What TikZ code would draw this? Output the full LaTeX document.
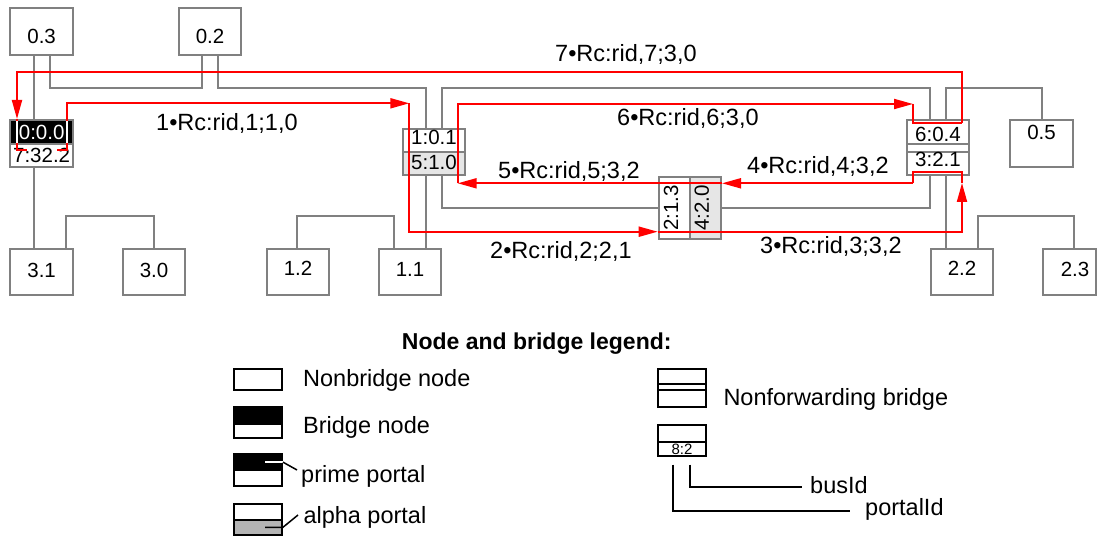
\documentclass[tikz,border=0pt]{standalone}
\usepackage{fontspec}
\usepackage{graphicx}
\setmainfont{Liberation Sans}
\usetikzlibrary{arrows.meta}

\definecolor{busgray}{HTML}{808080}
\definecolor{portalfill}{HTML}{E6E6E6}
\definecolor{alphafill}{HTML}{B4B4B4}
\definecolor{routered}{HTML}{FF0000}

\newcommand{\hostfont}{\fontsize{20.5pt}{24pt}\selectfont}
\newcommand{\routefont}{\fontsize{23.5pt}{28pt}\selectfont}
\newcommand{\legfont}{\fontsize{23.5pt}{28pt}\selectfont}
\newcommand{\legtitlefont}{\fontsize{23pt}{28pt}\selectfont\bfseries}
\newcommand{\idfont}{\fontsize{15pt}{18pt}\selectfont}

\begin{document}
\begin{tikzpicture}[x=1pt,y=-1pt,
  bus/.style={draw=busgray,line width=2pt},
  route/.style={draw=routered,line width=2pt},
  arrowed/.style={-{Triangle[length=19pt,width=10pt]}},
  hostbox/.style={draw=busgray,line width=2pt,fill=white,inner sep=0pt,
    minimum width=62.7pt,minimum height=46pt,font=\hostfont,text depth=0pt},
  portalpart/.style={draw=busgray,line width=2pt,inner sep=0pt,font=\hostfont},
  legbox/.style={draw=black,line width=2pt,inner sep=0pt,minimum width=47.7pt},
  leader/.style={draw=black,line width=1.5pt},
  idleader/.style={draw=black,line width=2pt},
  routelabel/.style={anchor=base west,inner sep=0pt,font=\routefont},
  legtext/.style={anchor=base west,inner sep=0pt,font=\legfont},
]
\useasboundingbox (0,0) rectangle (1098,537);

% ---------- hosts ----------
\node[hostbox,minimum height=46.7pt,text height=24.7pt] (n03) at (41.65,31.65) {0.3};
\node[hostbox,minimum height=46.7pt,text height=24.7pt] (n02) at (210,31.65) {0.2};
\node[hostbox,text height=10.1pt] (n31) at (41.65,272) {3.1};
\node[hostbox,text height=10.7pt] (n30) at (154,272) {3.0};
\node[hostbox,text height=6.1pt] (n12) at (298,272) {1.2};
\node[hostbox,text height=8.1pt] (n11) at (410,272) {1.1};
\node[hostbox,text height=6.1pt] (n22) at (962,272) {2.2};
\node[hostbox,text height=9.5pt,minimum width=53pt] (n23) at (1069.5,272) {\hspace*{11pt}2.3};
\node[hostbox,minimum width=63pt,minimum height=46.7pt,text height=0pt,text depth=6.7pt] (n05) at (1041.5,143.35) {0.5};

% ---------- bridges ----------
\node[portalpart,fill=black,text=white,minimum width=62.7pt,minimum height=24pt,
  text height=14.7pt,text depth=0pt] (b0top) at (41.65,132) {0:0.0};
\node[portalpart,fill=white,minimum width=62.7pt,minimum height=23pt,
  text height=14.7pt,text depth=0pt] (b0bot) at (41.65,155.5) {7:32.2};

\node[portalpart,fill=white,minimum width=62pt,minimum height=23.5pt,
  text height=8.5pt,text depth=0pt] (b1top) at (434,140.75) {1:0.1};
\node[portalpart,fill=portalfill,minimum width=62pt,minimum height=22.5pt,
  text height=12.5pt,text depth=0pt] (b1bot) at (434,163.75) {5:1.0};

\node[portalpart,fill=white,minimum width=31.3pt,minimum height=62pt] (b2l) at (674.35,208)
  {\rotatebox{90}{2:1.3}\hspace*{6.7pt}};
\node[portalpart,fill=portalfill,minimum width=31pt,minimum height=62pt] (b2r) at (705.5,208)
  {\rotatebox{90}{4:2.0}\hspace*{7.6pt}};

\node[portalpart,fill=white,minimum width=62pt,minimum height=24pt,
  text height=19.4pt,text depth=0pt] (b6top) at (938,132) {6:0.4};
\node[portalpart,fill=white,minimum width=62pt,minimum height=8pt] (b6gap) at (938,148) {};
\node[portalpart,fill=white,minimum width=62pt,minimum height=23pt,
  text height=7pt,text depth=0pt] (b6bot) at (938,163.5) {3:2.1};

% ---------- bus lines between hosts and bridges ----------
\draw[bus] (n03.south -| 34,0) -- (b0top.north -| 34,0);
\draw[bus] (n03.south -| 50,0) -- (50,88) -| (n02.south -| 202,0);
\draw[bus] (n02.south -| 218,0) -- (218,88) -| (b1top.north -| 426,0);
\draw[bus] (b1top.north -| 442,0) -- (442,88) -| (b6top.north -| 930,0);
\draw[bus] (b6top.north -| 946,0) -- (946,88) -| (n05.north -| 1042,0);
\draw[bus] (b0bot.south -| 34,0) -- (n31.north -| 34,0);
\draw[bus] (n31.north -| 66,0) -- (66,216) -| (n30.north -| 154,0);
\draw[bus] (n12.north -| 297,0) -- (297,216) -| (n11.north -| 394,0);
\draw[bus] (b1bot.south -| 426,0) -- (n11.north -| 426,0);
\draw[bus] (b1bot.south -| 442,0) |- (b2l.west |- 0,208);
\draw[bus] (b2r.east |- 0,208) -| (b6bot.south -| 930,0);
\draw[bus] (b6bot.south -| 946,0) -- (n22.north -| 946,0);
\draw[bus] (n22.north -| 978,0) -- (978,216) -| (n23.north -| 1074,0);

% ---------- route turning points ----------
\coordinate (c1a) at (57,150);
\coordinate (c12) at (409.3,103.3);
\coordinate (c34) at (962,183);
\coordinate (c45) at (913,183.3);
\coordinate (c56) at (457.7,183.3);
\coordinate (c67) at (913,104);
\coordinate (c7a) at (962,123);

% ---------- routes ----------
\draw[route,arrowed] (c7a) -- (962,72) -| (b0top.north -| 17,0);
\draw[route] (b0top.north -| 17,0) -- (17,150) -- (27,150);
\draw[route,arrowed] (c1a) -- (67,150) -- (67,103.3) -- (c12);
\draw[white,line width=2pt] (17,121) -- (17,143);
\draw[white,line width=2pt] (67,121) -- (67,143);
\draw[route,arrowed] (c12) -- (409.3,231.7) -- (b2l.west |- 0,231.7);
\draw[route,arrowed] (b2l.west |- 0,231.7) -- (962,231.7) -- (c34);
\draw[route] (c34) -- (962,172) -- (913,172) -- (c45);
\draw[route,arrowed] (c45) -- (b2r.east |- 0,183.3);
\draw[route,arrowed] (b2r.east |- 0,183.3) -- (c56);
\draw[route,arrowed] (c56) -- (457.7,104) -- (c67);
\draw[route] (c67) -- (913,123) -- (c7a);

% ---------- route labels ----------
\node[routelabel] (lab1) at (156,131) {1•Rc:rid,1;1,0};
\node[routelabel] (lab2) at (490,259) {2•Rc:rid,2;2,1};
\node[routelabel] (lab3) at (760,254) {3•Rc:rid,3;3,2};
\node[routelabel] (lab4) at (747,174) {4•Rc:rid,4;3,2};
\node[routelabel] (lab5) at (498,179) {5•Rc:rid,5;3,2};
\node[routelabel] (lab6) at (617,126) {6•Rc:rid,6;3,0};
\node[routelabel] (lab7) at (555,62) {7•Rc:rid,7;3,0};

% ---------- legend ----------
\node[anchor=base west,inner sep=0pt,font=\legtitlefont] (legtitle) at (401.7,350) {Node and bridge legend:};

\node[legbox,minimum height=20.4pt] (lgplain) at (258.15,379.5) {};
\node[legtext] (tplain) at (303,386.7) {Nonbridge node};

\node[legbox,fill=black,minimum height=17.3pt] (lgbtop) at (258.15,415.35) {};
\node[legbox,fill=white,minimum height=14pt] (lgbbot) at (258.15,431) {};
\node[legtext] (tbridge) at (303,433.3) {Bridge node};

\node[legbox,fill=black,minimum height=15.7pt] (lgptop) at (258.15,462.15) {};
\node[legbox,fill=white,minimum height=15.7pt] (lgpbot) at (258.15,477.85) {};
\node[legtext] (tprime) at (301,482.7) {prime portal};
\coordinate (primetip) at (297,470);
\draw[white,line width=1.5pt] (lgptop.center -| 265,0) -- (lgptop.east);
\draw[leader] (lgptop.east) -- (primetip);

\node[legbox,fill=white,minimum height=15.5pt] (lgatop) at (258.15,511.75) {};
\node[legbox,fill=alphafill,minimum height=15.5pt] (lgabot) at (258.15,527.25) {};
\node[legtext] (talpha) at (303.3,523.3) {alpha portal};
\coordinate (alphatip) at (298,515);
\draw[leader] (lgabot.center -| 265,0) -- (lgabot.east) -- (alphatip);

\node[legbox,minimum width=47.4pt,minimum height=15pt] (lgnftop) at (682,376.8) {};
\node[legbox,minimum width=47.4pt,minimum height=5.7pt] (lgnfgap) at (682,387.15) {};
\node[legbox,minimum width=47.4pt,minimum height=17.3pt] (lgnfbot) at (682,398.65) {};
\node[legtext] (tnonfwd) at (723.3,405) {Nonforwarding bridge};

\node[legbox,minimum width=47.4pt,minimum height=16.7pt] (lgidtop) at (682,433.35) {};
\node[legbox,minimum width=47.4pt,minimum height=14pt,font=\idfont,
  text height=10.7pt,text depth=0pt] (lgidbot) at (682,448.7) {8:2};

\node[legtext] (tbus) at (810,493.3) {busId};
\node[legtext] (tportal) at (865,515) {portalId};
\draw[idleader] (lgidbot.south) ++(8,8) |- ([xshift=-8pt,yshift=-2pt]tbus.west);
\draw[idleader] (lgidbot.south) ++(-8.7,8) |- ([xshift=-15pt,yshift=-2pt]tportal.west);
\end{tikzpicture}
\end{document}
